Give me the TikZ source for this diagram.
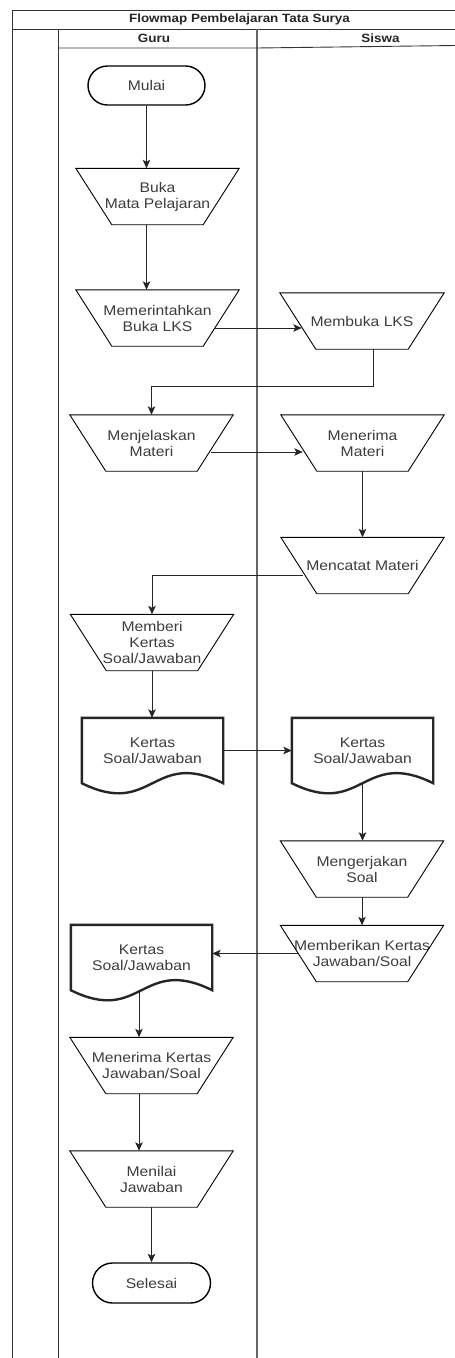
\documentclass[tikz,border=0pt]{standalone}
\usepackage{fontspec}
\setmainfont{Liberation Sans}
\newfontfamily\lab{Liberation Sans}[FakeStretch=1.12]
\usetikzlibrary{arrows.meta,calc,shapes.misc}
\definecolor{txt}{RGB}{60,60,60}
\begin{document}
\begin{tikzpicture}[x=1pt,y=-1pt,
  lbl/.style={font={\lab\fontsize{14pt}{16pt}\selectfont}, text=txt, align=center, inner sep=0pt},
  proc/.style={lbl, rectangle, minimum width=163pt, minimum height=56pt},
  doc/.style={lbl, rectangle, minimum width=141pt, minimum height=65pt},
  term/.style={lbl, rounded rectangle, draw=black, line width=1.4pt, minimum height=39pt},
  trapline/.style={draw=black, line width=0.9pt},
  docline/.style={draw=black!85, line width=2.4pt},
  arr/.style={draw=black!85, line width=0.9pt, -{Stealth[length=8.5pt,width=7.5pt,inset=2pt]}},
  head/.style={font={\bfseries\lab\fontsize{12pt}{14pt}\selectfont}, text=black!85, inner sep=0pt},
  frame/.style={draw=black!80, line width=0.9pt},
  lanel/.style={draw=black!60, line width=1.5pt}]
\useasboundingbox (0,0) rectangle (455,1358);

% frame and lanes
\draw[frame] (455,10) -- (12,10) -- (12,1358);
\draw[frame] (12,29) -- (455,29);
\draw[frame] (58,29) -- (58,1358);
\draw[lanel] (257,29) -- (257,1358);
\draw[frame] (58,48) -- (257,48) -- (455,45.5);
\node[head] (title) at (239.5,19.5) {Flowmap Pembelajaran Tata Surya};
\node[head] (guru) at (154,38.5) {Guru};
\node[head] (siswa) at (380.5,38.5) {Siswa};

% nodes
\node[term, minimum width=117pt] (mulai) at (146.5,85.5) {Mulai};
\node[proc] (buka) at (157.5,196.5) {Buka\\Mata Pelajaran};
\node[proc] (mem) at (157.5,318) {Memerintahkan\\Buka LKS};
\node[proc, minimum width=164pt] (membuka) at (362,321) {Membuka LKS};
\node[proc] (menjelaskan) at (151.5,443) {Menjelaskan\\Materi};
\node[proc] (menerima) at (362.5,443) {Menerima\\Materi};
\node[proc] (mencatat) at (362.5,565.5) {Mencatat Materi};
\node[proc] (memberi) at (152,642.5) {Memberi\\Kertas\\Soal/Jawaban};
\node[doc] (doc1) at (152.5,750.5) {Kertas\\Soal/Jawaban};
\node[doc] (doc2) at (362.5,750.5) {Kertas\\Soal/Jawaban};
\node[proc] (mengerjakan) at (362,869) {Mengerjakan\\Soal};
\node[proc] (memberikan) at (362,953.5) {Memberikan Kertas\\Jawaban/Soal};
\node[doc] (doc3) at (141.5,957.5) {Kertas\\Soal/Jawaban};
\node[proc] (menerimak) at (151.5,1065.5) {Menerima Kertas\\Jawaban/Soal};
\node[proc] (menilai) at (151.5,1179) {Menilai\\Jawaban};
\node[term, minimum width=118pt, minimum height=40pt] (selesai) at (151.5,1283) {Selesai};

% trapezoid outlines (manual operation)
\foreach \n in {buka,mem,membuka,menjelaskan,menerima,mencatat,memberi,mengerjakan,memberikan,menerimak,menilai}
  \draw[trapline] (\n.north west) -- (\n.north east) -- ([xshift=-36pt]\n.south east) -- ([xshift=36pt]\n.south west) -- cycle;

% document outlines
\foreach \n in {doc1,doc2,doc3}
  \draw[docline] (\n.south east) -- (\n.north east) -- (\n.north west) -- (\n.south west)
    .. controls ($(\n.south)+(0,35)$) and ($(\n.south)+(0,-35)$) .. (\n.south east) -- cycle;

% connectors
\draw[arr] (mulai) -- (mulai |- buka.north);
\draw[arr] (buka.south -| mulai.south) -- (mem.north -| mulai.south);
\draw[arr] ($(mem.east)+(-24,10)$) -- ($(membuka.west)+(22,7)$);
\draw[arr] ($(membuka.south)+(11,0)$) |- ($(menjelaskan.north)+(0,-28)$) -- (menjelaskan.north);
\draw[arr] ($(menjelaskan.east)+(-22,9)$) -- ($(menerima.west)+(22,9)$);
\draw[arr] (menerima.south) -- (mencatat.north);
\draw[arr] ($(mencatat.west)+(22,9.5)$) -| (memberi.north);
\draw[arr] (memberi.south) -- (memberi.south |- doc1.north);
\draw[arr] (doc1.east) -- (doc2.west);
\draw[arr] (doc2.south) -- (doc2.south |- mengerjakan.north);
\draw[arr] (mengerjakan.south) -- (memberikan.north);
\draw[arr] ($(memberikan.west)+(18,0)$) -- (doc3.east |- memberikan.west);
\draw[arr] ($(doc3.south)+(-2.5,0)$) -- ($(doc3.south |- menerimak.north)+(-2.5,0)$);
\draw[arr] ($(menerimak.south)+(-12.5,0)$) -- ($(menilai.north)+(-12.5,0)$);
\draw[arr] (menilai.south) -- (selesai.north);
\end{tikzpicture}
\end{document}
